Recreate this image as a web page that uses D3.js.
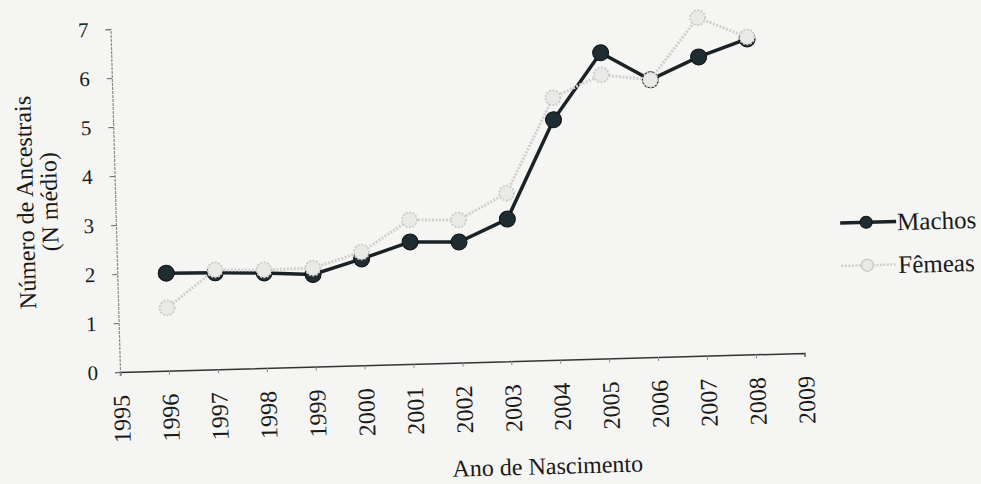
<!DOCTYPE html>
<html>
<head>
<meta charset="utf-8">
<script src="https://cdn.jsdelivr.net/npm/d3@7"></script>
<style>
  html, body { margin: 0; padding: 0; background: #f5f5f3; }
  svg { display: block; }
  text { font-family: "Liberation Serif", "DejaVu Serif", serif; fill: #1a1a1a; }
</style>
</head>
<body>
<svg id="chart" width="981" height="484"></svg>
<script>
const years = [1996, 1997, 1998, 1999, 2000, 2001, 2002, 2003, 2004, 2005, 2006, 2007, 2008];
const machos = [1.99, 1.97, 1.94, 1.88, 2.17, 2.49, 2.46, 2.90, 4.90, 6.24, 5.66, 6.10, 6.44];
const femeas = [1.28, 2.03, 2.00, 2.01, 2.31, 2.94, 2.91, 3.43, 5.35, 5.79, 5.66, 6.90, 6.48];
const xTicks = [1995, 1996, 1997, 1998, 1999, 2000, 2001, 2002, 2003, 2004, 2005, 2006, 2007, 2008, 2009];
const yTicks = [0, 1, 2, 3, 4, 5, 6, 7];
const seriesNames = ["Machos", "Fêmeas"];

const svg = d3.select("#chart");
// the scanned figure is slightly rotated
const root = svg.append("g").attr("transform", "rotate(-1.59,120,372)");

const x = d3.scaleLinear().domain([1995, 2009]).range([120, 805]);
const y = d3.scaleLinear().domain([0, 7]).range([372, 29]);

// Axes
const gx = root.append("g").attr("transform", `translate(0,${y(0)})`)
  .call(d3.axisBottom(x).tickValues(xTicks).tickSize(4).tickFormat(d3.format("d")));
gx.select(".domain").attr("stroke", "#333").attr("stroke-width", 1.5);
gx.selectAll(".tick line").attr("stroke", "#888");
gx.selectAll(".tick text")
  .attr("transform", "rotate(-90)")
  .attr("text-anchor", "end")
  .attr("x", -23).attr("y", 0).attr("dy", "0.35em")
  .style("font-size", "24px")
  .style("font-family", "Liberation Serif, serif")
  .attr("fill", "#1a1a1a");

const gy = root.append("g").attr("transform", `translate(${x(1995)},0)`)
  .call(d3.axisLeft(y).tickValues(yTicks).tickSize(5).tickFormat(d3.format("d")));
gy.select(".domain").attr("stroke", "#8a8a8a").attr("stroke-width", 1.2).attr("stroke-dasharray", "3,1");
gy.selectAll(".tick line").attr("stroke", "#666");
gy.selectAll(".tick text")
  .attr("x", -22)
  .style("font-size", "21px")
  .style("font-family", "Liberation Serif, serif")
  .attr("fill", "#1a1a1a");

// Axis titles
root.append("text")
  .attr("transform", "translate(38,200) rotate(-90)")
  .attr("text-anchor", "middle")
  .style("font-size", "24px")
  .text("Número de Ancestrais");
root.append("text")
  .attr("transform", "translate(62,200) rotate(-90)")
  .attr("text-anchor", "middle")
  .style("font-size", "24px")
  .text("(N médio)");
root.append("text")
  .attr("x", 545).attr("y", 486)
  .attr("text-anchor", "middle")
  .style("font-size", "24px")
  .text("Ano de Nascimento");

const line = d3.line().x((d, i) => x(years[i])).y(d => y(d));

// Machos (drawn first)
root.append("path").datum(machos)
  .attr("d", line).attr("fill", "none")
  .attr("stroke", "#1b2226").attr("stroke-width", 3.5);
root.append("g").selectAll("circle").data(machos).join("circle")
  .attr("cx", (d, i) => x(years[i])).attr("cy", d => y(d)).attr("r", 8)
  .attr("fill", "#1f2c32").attr("stroke", "#111").attr("stroke-width", 1);

// Fêmeas (on top)
root.append("path").datum(femeas)
  .attr("d", line).attr("fill", "none")
  .attr("stroke", "#d0d0ce").attr("stroke-width", 3)
  .attr("stroke-dasharray", "2,1.5");
root.append("g").selectAll("circle").data(femeas).join("circle")
  .attr("cx", (d, i) => x(years[i])).attr("cy", d => y(d)).attr("r", 7.5)
  .attr("fill", "#e9e9e7").attr("stroke", "#cbcbc9").attr("stroke-width", 1.8)
  .attr("stroke-dasharray", "2,1.5");

// Legend
const legend = root.append("g");
const legY = [243, 286];
legend.append("line").attr("x1", 844).attr("x2", 900).attr("y1", legY[0]).attr("y2", legY[0])
  .attr("stroke", "#1b2226").attr("stroke-width", 3.5);
legend.append("circle").attr("cx", 870).attr("cy", legY[0]).attr("r", 6)
  .attr("fill", "#1f2c32").attr("stroke", "#111");
legend.append("text").attr("x", 901).attr("y", legY[0]).attr("dy", "0.35em")
  .style("font-size", "25px").text(seriesNames[0]);
legend.append("line").attr("x1", 844).attr("x2", 900).attr("y1", legY[1]).attr("y2", legY[1])
  .attr("stroke", "#d0d0ce").attr("stroke-width", 2.5).attr("stroke-dasharray", "2,1.5");
legend.append("circle").attr("cx", 870).attr("cy", legY[1]).attr("r", 6)
  .attr("fill", "#e9e9e7").attr("stroke", "#cbcbc9").attr("stroke-width", 1.4);
legend.append("text").attr("x", 901).attr("y", legY[1]).attr("dy", "0.35em")
  .style("font-size", "25px").text(seriesNames[1]);
</script>
</body>
</html>
